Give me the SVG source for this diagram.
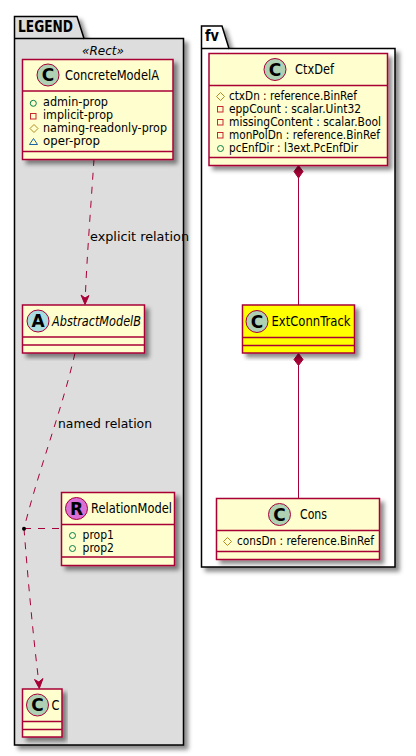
<svg xmlns="http://www.w3.org/2000/svg" width="416" height="756" viewBox="0 0 416 756">
<style>
text{font-family:"DejaVu Sans","Liberation Sans",sans-serif;fill:#000}
.n{font-size:13.5px}
.a{font-size:11.5px}
.l{font-size:13px}
.i{font-style:italic}
.p{font-size:15px;font-weight:bold}
.g{font-size:17px;font-weight:bold;text-anchor:middle}
.b{fill:#FEFECE;stroke:#A80036;stroke-width:1.5}
.y{fill:#FFFF00;stroke:#A80036;stroke-width:1.5}
.d{stroke:#A80036;stroke-width:1.5;fill:none}
.c{stroke:#A80036;stroke-width:1;fill:#ADD1B2}
.pk{stroke:#000;stroke-width:1.5}
.cn{fill:none;stroke:#A80036;stroke-width:1}
.ds{stroke-dasharray:7 7}
.ah{fill:#A80036;stroke:#A80036}
.ig{fill:none;stroke:#038048}
.ir{fill:none;stroke:#C82930}
.io{fill:none;stroke:#B38D22}
.it{fill:none;stroke:#1963A0}
</style>
<defs>
<filter id="s" x="-10%" y="-10%" width="125%" height="125%">
<feDropShadow dx="4" dy="4" stdDeviation="2.200" flood-color="#000" flood-opacity="0.45"/>
</filter>
</defs>
<g id="pkg-legend">
<path class="pk" fill="#DDDDDD" filter="url(#s)" d="M14.500 38.500V16.500H77L84 38.500H183.500V745H14.500Z"/>
<path class="pk" fill="none" d="M14.500 38.500H84"/>
<text class="p" x="18" y="32" textLength="55" lengthAdjust="spacingAndGlyphs">LEGEND</text>
<text class="l i" x="82" y="55" textLength="42" lengthAdjust="spacingAndGlyphs">«Rect»</text>
</g>
<g id="pkg-fv">
<path class="pk" fill="#FFFFFF" filter="url(#s)" d="M201.500 48.500V26H222L229 48.500H395V567H201.500Z"/>
<path class="pk" fill="none" d="M201.500 48.500H229"/>
<text class="p" x="205" y="41" textLength="14" lengthAdjust="spacingAndGlyphs">fv</text>
</g>
<g id="connectors">
<path class="cn ds" d="M94 159C91 205 87 255 85.300 297"/>
<path class="ah" d="M85 304.500L81 295L85 298L89 295.500Z"/>
<path class="cn ds" d="M75 353C62 410 40 465 24 528.500"/>
<path class="cn ds" d="M24 528.500H61"/>
<path class="cn ds" d="M24 528.500C28 580 33 635 38.800 682"/>
<path class="ah" d="M39.300 688.500L34.500 679.500L38.800 682L43 678.500Z"/>
<circle cx="24" cy="528.700" r="2" fill="#000"/>
<path class="cn" d="M298.500 178V305"/>
<path class="ah" d="M298.500 165.500L303 171.500L298.500 178L294 171.500Z"/>
<path class="cn" d="M298.500 365V498"/>
<path class="ah" d="M298.500 353.500L303 359.500L298.500 365.500L294 359.500Z"/>
<text class="l" x="90" y="241" textLength="99" lengthAdjust="spacingAndGlyphs">explicit relation</text>
<text class="l" x="58" y="428" textLength="94" lengthAdjust="spacingAndGlyphs">named relation</text>
</g>
<g id="node-concrete">
<rect class="b" x="22.500" y="59.500" width="150.500" height="100" filter="url(#s)"/>
<path class="d" d="M22.500 91H173M22.500 151.500H173"/>
<circle class="c" cx="48" cy="75" r="11"/>
<text class="g" x="48" y="81">C</text>
<text class="n" x="65" y="80" textLength="94" lengthAdjust="spacingAndGlyphs">ConcreteModelA</text>
<circle class="ig" cx="33.300" cy="103.300" r="3"/>
<text class="a" x="43" y="106" textLength="65" lengthAdjust="spacingAndGlyphs">admin-prop</text>
<rect class="ir" x="30.500" y="113.500" width="5.500" height="5.500"/>
<text class="a" x="43" y="119" textLength="70" lengthAdjust="spacingAndGlyphs">implicit-prop</text>
<path class="io" d="M34 124.500L38 128.500L34 132.500L30 128.500Z"/>
<text class="a" x="43" y="132" textLength="124" lengthAdjust="spacingAndGlyphs">naming-readonly-prop</text>
<path class="it" d="M33.500 138.500L37.500 144.500H29.500Z"/>
<text class="a" x="43" y="145" textLength="57" lengthAdjust="spacingAndGlyphs">oper-prop</text>
</g>
<g id="node-abstract">
<rect class="b" x="22.500" y="305" width="122" height="48" filter="url(#s)"/>
<path class="d" d="M22.500 337H144.500M22.500 345H144.500"/>
<circle class="c" cx="38" cy="321" r="11" style="fill:#A9DCDF"/>
<text class="g" x="38" y="327">A</text>
<text class="n i" x="52" y="326" textLength="89" lengthAdjust="spacingAndGlyphs">AbstractModelB</text>
</g>
<g id="node-relation">
<rect class="b" x="61.500" y="492.500" width="113" height="73" filter="url(#s)"/>
<path class="d" d="M61.500 524.500H174.500M61.500 557H174.500"/>
<circle class="c" cx="76.500" cy="508.500" r="11" style="fill:#DA70D6"/>
<text class="g" x="76.500" y="514.500">R</text>
<text class="n" x="91" y="513" textLength="81" lengthAdjust="spacingAndGlyphs">RelationModel</text>
<circle class="ig" cx="72.500" cy="535.500" r="3"/>
<text class="a" x="82.500" y="539" textLength="31.500" lengthAdjust="spacingAndGlyphs">prop1</text>
<circle class="ig" cx="72.500" cy="548.500" r="3"/>
<text class="a" x="82.500" y="552" textLength="31.500" lengthAdjust="spacingAndGlyphs">prop2</text>
</g>
<g id="node-c">
<rect class="b" x="22.500" y="689" width="39.500" height="48" filter="url(#s)"/>
<path class="d" d="M22.500 721.500H62M22.500 729.500H62"/>
<circle class="c" cx="37.500" cy="705" r="11"/>
<text class="g" x="37.500" y="711">C</text>
<text class="n" x="51.500" y="710" textLength="8" lengthAdjust="spacingAndGlyphs">C</text>
</g>
<g id="node-ctxdef">
<rect class="b" x="209" y="53.500" width="178.500" height="112" filter="url(#s)"/>
<path class="d" d="M209 85.500H387.500M209 157.500H387.500"/>
<circle class="c" cx="275" cy="69.500" r="11"/>
<text class="g" x="275" y="75.500">C</text>
<text class="n" x="295" y="74" textLength="39" lengthAdjust="spacingAndGlyphs">CtxDef</text>
<path class="io" d="M220.500 92.500L224.500 96.500L220.500 100.500L216.500 96.500Z"/>
<text class="a" x="229" y="100" textLength="128" lengthAdjust="spacingAndGlyphs">ctxDn : reference.BinRef</text>
<rect class="ir" x="217.500" y="106.500" width="5.500" height="5.500"/>
<text class="a" x="229" y="113" textLength="132" lengthAdjust="spacingAndGlyphs">eppCount : scalar.Uint32</text>
<rect class="ir" x="217.500" y="119.500" width="5.500" height="5.500"/>
<text class="a" x="229" y="126" textLength="152" lengthAdjust="spacingAndGlyphs">missingContent : scalar.Bool</text>
<rect class="ir" x="217.500" y="132.500" width="5.500" height="5.500"/>
<text class="a" x="229" y="139" textLength="151" lengthAdjust="spacingAndGlyphs">monPolDn : reference.BinRef</text>
<circle class="ig" cx="220.500" cy="148.500" r="3"/>
<text class="a" x="229" y="151.500" textLength="129" lengthAdjust="spacingAndGlyphs">pcEnfDir : l3ext.PcEnfDir</text>
</g>
<g id="node-extconn">
<rect class="y" x="242.500" y="305" width="112" height="48" filter="url(#s)"/>
<path class="d" d="M242.500 337.500H354.500M242.500 345.500H354.500"/>
<circle class="c" cx="257" cy="321.500" r="11"/>
<text class="g" x="257" y="327.500">C</text>
<text class="n" x="271.500" y="326" textLength="79" lengthAdjust="spacingAndGlyphs">ExtConnTrack</text>
</g>
<g id="node-cons">
<rect class="b" x="216.500" y="498.500" width="163" height="61" filter="url(#s)"/>
<path class="d" d="M216.500 530.500H379.500M216.500 551.500H379.500"/>
<circle class="c" cx="279.500" cy="514.500" r="11"/>
<text class="g" x="279.500" y="520.500">C</text>
<text class="n" x="300" y="519" textLength="27" lengthAdjust="spacingAndGlyphs">Cons</text>
<path class="io" d="M227.500 537.500L231.500 541.500L227.500 545.500L223.500 541.500Z"/>
<text class="a" x="237" y="545" textLength="137" lengthAdjust="spacingAndGlyphs">consDn : reference.BinRef</text>
</g>
</svg>
